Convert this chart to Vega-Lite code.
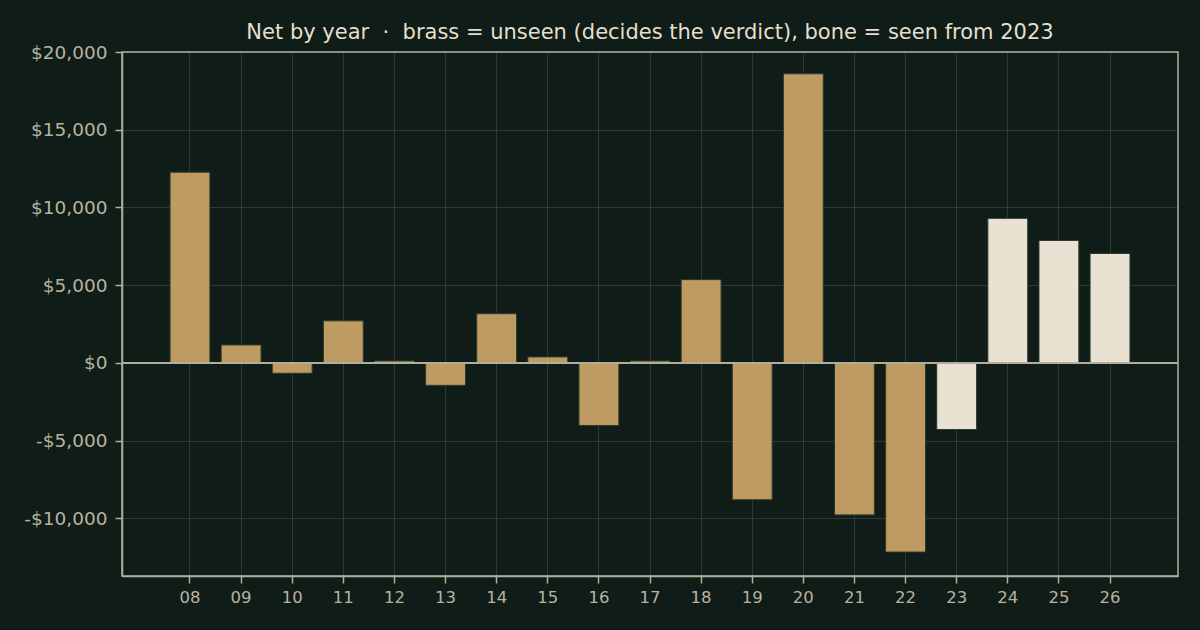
{
  "$schema": "https://vega.github.io/schema/vega-lite/v6.json",
  "width": 1056,
  "height": 524,
  "autosize": "none",
  "padding": {"left": 122, "top": 52, "right": 22, "bottom": 54},
  "background": "#0f1c17",
  "config": {
    "font": "DejaVu Sans",
    "view": {"stroke": "#b3ae9b", "strokeWidth": 1.5, "fill": "#0f1c17"},
    "axis": {
      "zindex": 1,
      "domainColor": "#b3ae9b",
      "domainWidth": 1.5,
      "tickColor": "#b3ae9b",
      "tickWidth": 1.5,
      "tickSize": 7,
      "labelColor": "#b8b3a0",
      "labelFont": "DejaVu Sans",
      "gridColor": "#aab0a0",
      "gridOpacity": 0.2,
      "gridWidth": 1,
      "titleColor": "#b8b3a0"
    }
  },
  "title": {
    "text": "Net by year\u00a0 ·\u00a0 brass = unseen (decides the verdict), bone = seen from 2023",
    "color": "#e6dfcd",
    "fontSize": 21,
    "fontWeight": "normal",
    "font": "DejaVu Sans",
    "anchor": "middle",
    "offset": 0
  },
  "data": {
    "values": [
      {"year": "08", "net": 12270, "status": "unseen"},
      {"year": "09", "net": 1160, "status": "unseen"},
      {"year": "10", "net": -660, "status": "unseen"},
      {"year": "11", "net": 2710, "status": "unseen"},
      {"year": "12", "net": 130, "status": "unseen"},
      {"year": "13", "net": -1440, "status": "unseen"},
      {"year": "14", "net": 3170, "status": "unseen"},
      {"year": "15", "net": 390, "status": "unseen"},
      {"year": "16", "net": -4020, "status": "unseen"},
      {"year": "17", "net": 130, "status": "unseen"},
      {"year": "18", "net": 5360, "status": "unseen"},
      {"year": "19", "net": -8800, "status": "unseen"},
      {"year": "20", "net": 18600, "status": "unseen"},
      {"year": "21", "net": -9770, "status": "unseen"},
      {"year": "22", "net": -12160, "status": "unseen"},
      {"year": "23", "net": -4280, "status": "seen"},
      {"year": "24", "net": 9300, "status": "seen"},
      {"year": "25", "net": 7880, "status": "seen"},
      {"year": "26", "net": 7040, "status": "seen"}
    ]
  },
  "layer": [
    {
      "mark": {"type": "bar", "stroke": "#2c3a2c", "strokeWidth": 1},
      "encoding": {
        "x": {
          "field": "year",
          "type": "ordinal",
          "sort": null,
          "scale": {"paddingInner": 0.22, "paddingOuter": 0.94},
          "axis": {"title": null, "labelAngle": 0, "grid": true, "labelPadding": 6, "labelFontSize": 16.5}
        },
        "y": {
          "field": "net",
          "type": "quantitative",
          "scale": {"domain": [-13700, 20000], "nice": false, "zero": false},
          "axis": {
            "title": null,
            "values": [-10000, -5000, 0, 5000, 10000, 15000, 20000],
            "labelExpr": "datum.value < 0 ? '-$' + format(-datum.value, ',') : '$' + format(datum.value, ',')",
            "labelPadding": 8,
            "labelFontSize": 18.5,
            "grid": true
          }
        },
        "color": {
          "field": "status",
          "type": "nominal",
          "scale": {"domain": ["unseen", "seen"], "range": ["#bd9b63", "#e9e2d2"]},
          "legend": null
        }
      }
    },
    {
      "mark": {"type": "rule", "color": "#b3ae9b", "strokeWidth": 1.5},
      "encoding": {
        "y": {"datum": 0, "type": "quantitative"}
      }
    }
  ]
}
